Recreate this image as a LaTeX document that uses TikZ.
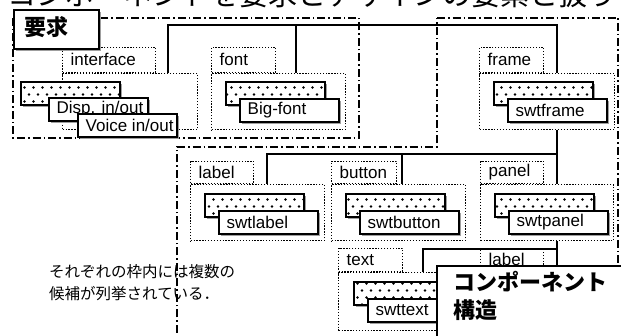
\documentclass[tikz,border=0pt]{standalone}
\usepackage{fontspec}
\setmainfont{Liberation Sans}
\newfontfamily\jp{Noto Sans CJK JP}
\usetikzlibrary{patterns,shadows}
\pgfdeclarepatternformonly{tiledots}{\pgfpoint{-1pt}{-1pt}}{\pgfpoint{10pt}{15pt}}{\pgfpoint{9pt}{14pt}}{%
  \pgfpathcircle{\pgfpoint{2pt}{3.5pt}}{1.35pt}%
  \pgfpathcircle{\pgfpoint{6.5pt}{10.5pt}}{1.35pt}%
  \pgfusepath{fill}}
\tikzset{
  tree/.style={line width=1.5pt},
  dashdot/.style={line width=1.4pt, dash pattern=on 8pt off 3pt on 1.5pt off 3pt},
  grpbox/.style={draw, line width=1.3pt, dash pattern=on 1.3pt off 1.6pt, rectangle, inner sep=0pt},
  txt/.style={font=\fontsize{17}{19}\selectfont, inner sep=0pt},
  shad/.style={drop shadow={shadow xshift=2.5pt, shadow yshift=-2.5pt, fill=gray!75, opacity=1}},
  dotcard/.style={shad, preaction={fill=white}, draw, line width=1.8pt, pattern=tiledots, rectangle,
    minimum width=99pt, minimum height=23pt, inner sep=0pt, anchor=north west},
  namecard/.style={shad, draw, line width=1.8pt, fill=white, rectangle,
    minimum width=99pt, minimum height=23pt, inner sep=0pt, anchor=north west},
  headbox/.style={draw, line width=1.8pt, fill=white, rectangle, inner sep=0pt, anchor=north west},
  jphead/.style={font=\jp\bfseries\fontsize{22}{24}\selectfont, inner sep=0pt, anchor=west},
  jpbody/.style={font=\jp\fontsize{15.5}{18}\selectfont, inner sep=0pt, anchor=west},
}
% group: name, tab text, gx, gy, tab width, tab height, group width, group height
\newcommand\grp[8]{%
  \node[grpbox, minimum width=#7pt, minimum height=#8pt, anchor=north west] (#1) at (#3,#4) {};
  \node[grpbox, minimum width=#5pt, minimum height=#6pt, anchor=south west] (#1tab) at (#1.north west) {};
  \node[txt, anchor=west] (#1lbl) at ([xshift=8.5pt]#1tab.west) {#2};}
% card: name, x, y, text
\newcommand\namecard[4]{%
  \node[namecard] (#1) at (#2,#3) {};
  \node[txt, anchor=west] (#1txt) at ([xshift=8.5pt]#1.west) {#4};}
\begin{document}
\begin{tikzpicture}[x=1pt,y=-1pt]
\useasboundingbox (0,0) rectangle (621,336);
% title line (cut off at the top, as in the reference)
\node[font=\jp\fontsize{29}{30}\selectfont, inner sep=0pt, anchor=base west] (title) at (7,5.5) {コンポーネントを要求とデザインの要素と扱う};
% regions
\draw[dashdot] (13,18) rectangle (359,138);
\draw[dashdot] (437,18) -- (618,18) -- (618,345) -- (177,345) -- (177,147) -- (437,147) -- cycle;
% groups
\grp{gint}{interface}{62}{73}{93}{25}{135}{56}
\grp{gfont}{font}{211}{73}{64}{25}{134}{56}
\grp{gframe}{frame}{479}{73}{64}{25}{135}{56}
\grp{glabel}{label}{190}{184}{63}{22}{134}{56}
\grp{gbutton}{button}{331}{184}{65}{22}{134}{56}
\grp{gpanel}{panel}{480}{184}{63}{22}{133}{56}
\grp{gtext}{text}{338}{272}{64}{23}{134}{58}
\grp{glabelb}{label}{480}{272}{63}{23}{133}{58}
% connector anchors on group tops
\coordinate (cI) at ([xshift=106pt]gint.north west);
\coordinate (cFo) at ([xshift=85pt]gfont.north west);
\coordinate (cFr) at ([xshift=78pt]gframe.north west);
\coordinate (cLa) at ([xshift=77pt]glabel.north west);
\coordinate (cBu) at ([xshift=71pt]gbutton.north west);
\coordinate (cPa) at ([xshift=77pt]gpanel.north west);
\coordinate (cTe) at ([xshift=85pt]gtext.north west);
\coordinate (cLb) at ([xshift=77pt]glabelb.north west);
\coordinate (bus1) at (0,25);
\coordinate (bus2) at (0,154);
\coordinate (bus3) at (0,249);
\draw[tree] (cI) -- (cI |- bus1) -- (cFr |- bus1) -- (cFr);
\draw[tree] (cFo) -- (cFo |- bus1);
\draw[tree] (gframe.south -| cFr) -- (cPa);
\draw[tree] (cLa) -- (cLa |- bus2) -- (cPa |- bus2);
\draw[tree] (cBu) -- (cBu |- bus2);
\draw[tree] (gpanel.south -| cPa) -- (cLb);
\draw[tree] (cTe) -- (cTe |- bus3) -- (cLb |- bus3);
% cards
\node[dotcard] (dint) at (20,81) {};
\namecard{cdisp}{48}{97}{Disp. in/out}
\namecard{cvoice}{77}{113}{Voice in/out}
\node[dotcard] (dfont) at (225,81) {};
\namecard{cbig}{239}{98}{Big-font}
\node[dotcard] (dframe) at (493,81) {};
\namecard{cframe}{507}{98}{swtframe}
\node[dotcard] (dlabel) at (204,193) {};
\namecard{clabel}{218}{210}{swtlabel}
\node[dotcard] (dbutton) at (345,193) {};
\namecard{cbutton}{359}{210}{swtbutton}
\node[dotcard] (dpanel) at (494,193) {};
\namecard{cpanel}{508}{210}{swtpanel}
\node[dotcard] (dtext) at (353,281) {};
\namecard{ctext}{367}{298}{swttext}
% headings
\node[headbox, shad, minimum width=85pt, minimum height=39pt] (req) at (13,9) {};
\node[jphead] (reqtxt) at (24,27) {要求};
\node[headbox, minimum width=190pt, minimum height=80pt] (comp) at (436,265) {};
\node[jphead] (comp1) at (453,281.5) {コンポーネント};
\node[jphead] (comp2) at (453,310) {構造};
% note
\node[jpbody] (note1) at (49,272) {それぞれの枠内には複数の};
\node[jpbody] (note2) at (49,294) {候補が列挙されている．};
\end{tikzpicture}
\end{document}
